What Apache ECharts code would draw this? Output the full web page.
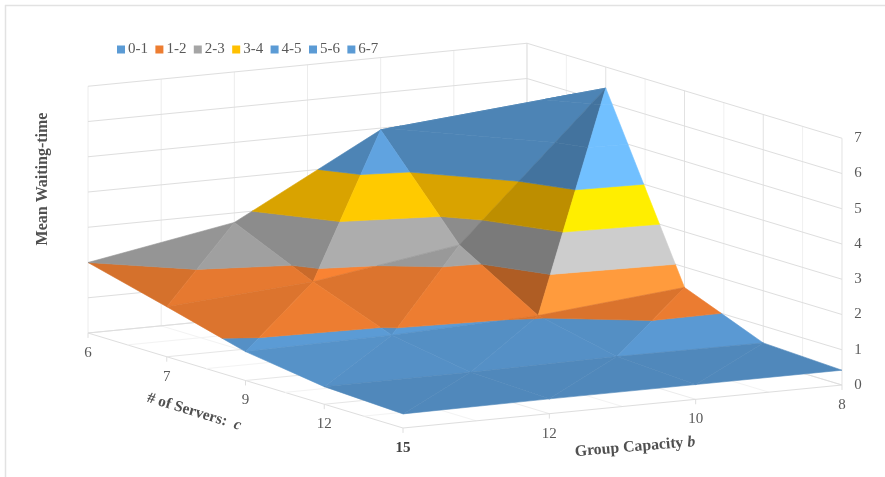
<!DOCTYPE html>
<html><head><meta charset="utf-8">
<style>html,body{margin:0;padding:0;background:#fff}#c{width:885px;height:477px}</style>
<script src="https://cdn.jsdelivr.net/npm/echarts@6/dist/echarts.min.js"></script>
</head><body><div id="c"></div>
<script>
// ---- data ----
const serverLabels = ['6','7','9','12','15'];      // # of servers c
const capacityLabels = ['', '12', '10', '8'];      // group capacity b (first category unlabelled)
const zTicks = [0,1,2,3,4,5,6,7];
const bands = ['0-1','1-2','2-3','3-4','4-5','5-6','6-7'];
const waitC6  = [2.00, 2.73, 4.95, 5.31];
const waitC7  = [1.42, 1.72, 2.36, 6.40];
const waitC9  = [0.82, 0.88, 1.03, 1.42];
const waitC12 = [0.50, 0.50, 0.54, 0.52];
const waitC15 = [0.40, 0.42, 0.42, 0.42];
const waits = [waitC6, waitC7, waitC9, waitC12, waitC15];

// ---- styles ----
const bandColors = ['#5B9BD5','#ED7D31','#A5A5A5','#FFC000','#5B9BD5','#5B9BD5','#5B9BD5'];
// per cell [row v][col u] : [first triangle, second triangle] lighting
const lighting = [
  [[.90,.97],[.85,1.05],[.85,.85]],
  [[.93,1.0],[.93,1.0],[.74,1.24]],
  [[.94,.93],[.92,.93],[.92,.99]],
  [[.88,.88],[.88,.88],[.88,.88]]
];
// cells whose fold runs along the other diagonal: row v, col u
const flippedCells = ['0,2'];
// oblique projection of (u = capacity index, v = server index, z = value) to chart units
const O = [88,333], U = [146.33,-14.33], V = [78.75,23.75], Zs = 35.25;
const proj = (u,v,z) => [O[0]+U[0]*u+V[0]*v, O[1]+U[1]*u+V[1]*v-Zs*z];

// triangles, back to front
const tris = [];
for (let v=0; v<waits.length-1; v++) for (let u=waits[0].length-2; u>=0; u--) {
  const P=(a,b)=>[a,b,waits[b][a]];
  if (flippedCells.includes(v+','+u)) {
    tris.push({p:[P(u,v),P(u+1,v),P(u+1,v+1)], s:lighting[v][u][0]});
    tris.push({p:[P(u,v),P(u+1,v+1),P(u,v+1)], s:lighting[v][u][1]});
  } else {
    tris.push({p:[P(u,v),P(u+1,v),P(u,v+1)], s:lighting[v][u][0]});
    tris.push({p:[P(u+1,v),P(u+1,v+1),P(u,v+1)], s:lighting[v][u][1]});
  }
}
function clip(poly, z0, keepAbove){
  const out=[];
  for(let i=0;i<poly.length;i++){
    const a=poly[i], b=poly[(i+1)%poly.length];
    const ia = keepAbove ? a[2]>=z0 : a[2]<=z0;
    const ib = keepAbove ? b[2]>=z0 : b[2]<=z0;
    if(ia) out.push(a);
    if(ia!==ib){const t=(z0-a[2])/(b[2]-a[2]);out.push([a[0]+(b[0]-a[0])*t,a[1]+(b[1]-a[1])*t,z0]);}
  }
  return out;
}
function shade(hex,f){
  const n=parseInt(hex.slice(1),16);
  const c=[n>>16,(n>>8)&255,n&255].map(x=>Math.min(255,Math.round(x*f)));
  return 'rgb('+c.join(',')+')';
}
const bandSeries = bands.map((name,k)=>({
  type:'custom', name, coordinateSystem:'cartesian2d', clip:false, z:3,
  itemStyle:{color:bandColors[k]}, silent:true,
  data:tris.map((t,i)=>[i]),
  encode:{x:-1,y:-1},
  renderItem(params,api){
    const t=tris[api.value(0)];
    const poly=clip(clip(t.p,k,true),k+1,false);
    if(poly.length<3) return null;
    const col=shade(bandColors[k],t.s);
    return {type:'polygon',
      shape:{points:poly.map(p=>api.coord(proj(p[0],p[1],p[2])))},
      style:{fill:col,stroke:col,lineWidth:0.6}};
  }
}));

// grid lines
const major='#dedede';
const segs=[];
const nU=waits[0].length-1, nV=waits.length-1, zMax=zTicks[zTicks.length-1];
for(let k=0;k<=nU*2;k++){const u=k/2;
  segs.push([u,0,0,u,0,zMax,'#ececec']);                     // back-left wall verticals
  segs.push([u,0,0,u,nV,0,k===0?major:(k%2?'#f3f3f3':'#ececec')]);    // floor
}
for(let k=0;k<=nV*2;k++){const v=k/2;
  segs.push([nU,v,0,nU,v,zMax,k%2?'#f0f0f0':'#e2e2e2']);     // back-right wall verticals
  segs.push([0,v,0,nU,v,0,k===nV*2?major:(k%2?'#f3f3f3':'#e6e6e6')]);    // floor
}
zTicks.forEach(z=>{segs.push([0,0,z,nU,0,z,major]);segs.push([nU,0,z,nU,nV,z,major]);});
for(let v=0;v<=nV;v++) segs.push([0,v,0,0,v,-0.14,major]);
for(let u=1;u<=nU;u++) segs.push([u,nV,0,u,nV,-0.14,major]);

const gridSeries={type:'custom',name:'grid',coordinateSystem:'cartesian2d',clip:false,z:1,silent:true,
  data:segs.map((s,i)=>[i]),encode:{x:-1,y:-1},
  renderItem(params,api){
    const s=segs[api.value(0)];
    const a=api.coord(proj(s[0],s[1],s[2])), b=api.coord(proj(s[3],s[4],s[5]));
    return {type:'line',shape:{x1:a[0],y1:a[1],x2:b[0],y2:b[1]},style:{stroke:s[6],lineWidth:1}};
  }};

// tick labels
const font='15px "Liberation Serif"';
const labels=[];
serverLabels.forEach((t,v)=>{labels.push({t,p:proj(0,v,0),dx:0,dy:20,bold:v===serverLabels.length-1});});
capacityLabels.forEach((t,u)=>{if(t)labels.push({t,p:proj(u,nV,0),dx:0,dy:20});});
zTicks.forEach(z=>{labels.push({t:String(z),p:proj(nU,nV,z),dx:16,dy:0});});
const labelSeries={type:'custom',name:'ticks',coordinateSystem:'cartesian2d',clip:false,z:4,silent:true,
  data:labels.map((l,i)=>[i]),encode:{x:-1,y:-1},
  renderItem(params,api){
    const l=labels[api.value(0)];
    const c=api.coord(l.p);
    return {type:'text',style:{text:l.t,x:c[0]+l.dx,y:c[1]+l.dy,align:'center',verticalAlign:'middle',
      fill:l.bold?'#404040':'#595959',font:(l.bold?'bold ':'')+font}};
  }};

const titleRich=(sz)=>({b:{font:'bold '+sz+'px "Liberation Serif"',fill:'#505050'},
                        i:{font:'italic bold '+sz+'px "Liberation Serif"',fill:'#505050'}});
const chart=echarts.init(document.getElementById('c'),null,{renderer:'canvas'});
chart.setOption({
  animation:false,
  backgroundColor:'#fff',
  grid:{left:0,right:0,top:0,bottom:0},
  xAxis:{type:'value',min:0,max:885,show:false},
  yAxis:{type:'value',min:0,max:477,inverse:true,show:false},
  legend:{data:bands,left:112,top:37,icon:'rect',itemWidth:8,itemHeight:8,itemGap:7.4,
    textStyle:{fontFamily:'Liberation Serif',fontSize:15,color:'#595959',padding:[0,0,0,-2]},selectedMode:false},
  series:[gridSeries,...bandSeries,labelSeries],
  graphic:[
    {type:'line',shape:{x1:5.5,y1:5,x2:5.5,y2:477},style:{stroke:'#e2e2e2',lineWidth:1.5},silent:true},
    {type:'line',shape:{x1:5,y1:5.5,x2:885,y2:5.5},style:{stroke:'#e2e2e2',lineWidth:1.5},silent:true},
    {type:'text',x:43,y:179,rotation:Math.PI/2,silent:true,
      style:{text:'Mean Waiting-time',align:'center',verticalAlign:'middle',font:'bold 16px "Liberation Serif"',fill:'#505050'}},
    {type:'text',x:194,y:412,rotation:-17*Math.PI/180,silent:true,
      style:{text:'{b|# of Servers:  }{i|c}',align:'center',verticalAlign:'middle',rich:titleRich(15.4)}},
    {type:'text',x:635,y:447,rotation:4.8*Math.PI/180,silent:true,
      style:{text:'{b|Group Capacity }{i|b}',align:'center',verticalAlign:'middle',rich:titleRich(15.8)}}
  ]
});
</script></body></html>
